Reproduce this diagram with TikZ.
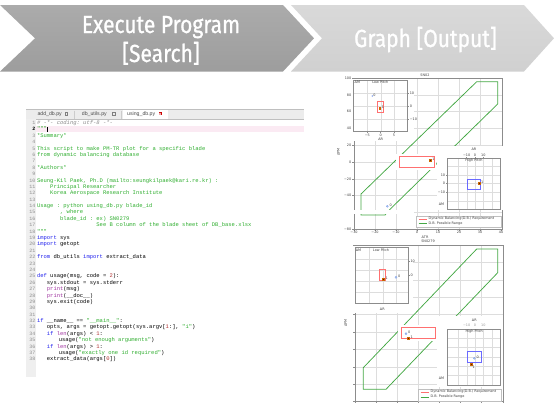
\documentclass[tikz,border=0pt]{standalone}
\usepackage{fontspec}
\setmainfont{DejaVu Sans}
\setmonofont{Liberation Mono}
\newfontfamily\headfont[FakeStretch=0.85, FakeBold=0.9]{Fira Sans}
\newfontfamily\uifont{Liberation Sans}
\newfontfamily\plotfont{DejaVu Sans}

\definecolor{hdtopA}{HTML}{ABABAB}
\definecolor{hdbotA}{HTML}{9D9D9D}
\definecolor{hdtopB}{HTML}{D9D9D9}
\definecolor{hdbotB}{HTML}{D0D0D0}
\definecolor{pystr}{HTML}{2FAE2F}
\definecolor{pykw}{HTML}{2222EE}
\definecolor{pybi}{HTML}{A033A0}
\definecolor{pynum}{HTML}{B03030}
\definecolor{pycom}{HTML}{8A8A8A}
\definecolor{gutterbg}{HTML}{EFEFEF}
\definecolor{tabbg}{HTML}{ECECEC}
\definecolor{curline}{HTML}{FBEAF3}
\definecolor{gridc}{HTML}{DDDDDD}
\definecolor{framec}{HTML}{8C8C8C}
\definecolor{rangec}{HTML}{44A844}
\definecolor{reqc}{HTML}{FF7070}
\definecolor{hpc}{HTML}{6A6AFF}
\definecolor{ptzero}{HTML}{A9CDE8}
\definecolor{ptone}{HTML}{5A1A00}

% syntax colouring helpers
\newcommand\pyK[1]{{\color{pykw}#1}}
\newcommand\pyB[1]{{\color{pybi}#1}}
\newcommand\pyN[1]{{\color{pynum}#1}}
\newcommand\pyS[1]{{\color{pystr}#1}}

% one numbered source line: number, indent (pt), text
\newcommand\codeline[3]{%
  \node[lineno] (n#1) at (35.6,{124.5+6.39*(#1-1)}) {#1};
  \node[codetxt] (c#1) at ({36.8+#2},{124.5+6.39*(#1-1)}) {#3};}
\newcommand\blankline[1]{%
  \node[lineno] (n#1) at (35.6,{124.5+6.39*(#1-1)}) {#1};}

\tikzset{
  headtext/.style={font=\headfont\fontsize{24.7}{29}\selectfont, text=white, anchor=base, inner sep=0},
  lineno/.style={anchor=base east, inner sep=0, font=\ttfamily\fontsize{5}{5}\selectfont, text=black!45},
  codetxt/.style={anchor=base west, inner sep=0, font=\ttfamily\fontsize{5.5}{5.5}\selectfont},
  tabtxt/.style={anchor=base west, inner sep=0, font=\uifont\fontsize{5.2}{5.2}\selectfont, text=black!70},
  gridline/.style={draw=gridc, line width=0.35pt},
  axframe/.style={draw=framec, line width=0.45pt},
  dbrange/.style={draw=rangec, line width=0.75pt},
  reqbox/.style={draw=reqc, line width=0.8pt},
  hpbox/.style={draw=hpc, line width=0.8pt},
  ticklbl/.style={font=\plotfont\fontsize{3.4}{3.6}\selectfont, inner sep=0, text=black!75},
  zeropt/.style={circle, fill=ptzero, draw=ptzero!70!blue, line width=0.2pt, minimum size=2.2pt, inner sep=0},
  onept/.style={rectangle, fill=ptone, draw=orange!80!black, line width=0.3pt, minimum size=1.9pt, inner sep=0},
}

\begin{document}
\begin{tikzpicture}[x=1pt,y=-1pt]
\useasboundingbox (0,0) rectangle (554,410);

% ---------------- header chevrons ----------------
\shade[top color=hdtopA, bottom color=hdbotA]
  (0,5) -- (283,5) -- (314,38.3) -- (283,71.5) -- (0,71.5) -- (35,38.3) -- cycle;
\shade[top color=hdtopB, bottom color=hdbotB]
  (291,5) -- (524,5) -- (554,38.3) -- (524,71.5) -- (291,71.5) -- (322,38.3) -- cycle;
\node[headtext] (hdrunA) at (161,33) {Execute Program};
\node[headtext] (hdrunB) at (161,62) {[Search]};
\node[headtext] (hdgraph) at (425.5,47) {Graph [Output]};

% ---------------- source editor ----------------
\fill[white] (26,109) rectangle (304,377);
\fill[tabbg] (26,109.3) rectangle (304,119);
\draw[black!25, line width=0.4pt] (26,109.3) -- (304,109.3);
\draw[black!25, line width=0.4pt] (26,119) -- (304,119);
\fill[white] (123,109.6) rectangle (168,119.2);
\draw[black!20, line width=0.3pt] (74,110.5) -- (74,118.5) (121,110.5) -- (121,118.5);
\node[tabtxt] (tab1) at (37.3,115.8) {add\_db.py};
\draw[black!50, line width=0.3pt] (65,112.5) rectangle (67.6,115.1);
\node[tabtxt] (tab2) at (81.7,115.8) {db\_utils.py};
\draw[black!50, line width=0.3pt] (112.5,112.5) rectangle (115.1,115.1);
\node[tabtxt] (tab3) at (127,115.8) {using\_db.py};
\fill[red!80!black] (158.5,112.3) rectangle (161.6,115.4);
\draw[white, line width=0.3pt] (159.2,113) -- (160.9,114.7) (159.2,114.7) -- (160.9,113);

\fill[gutterbg] (26,119.4) rectangle (36.3,377);
\fill[curline] (36.3,125.6) rectangle (304,131.8);

\codeline{1}{0}{{\color{pycom}\itshape \# -*- coding: utf-8 -*-}}
\node[lineno, text=black, font=\ttfamily\bfseries\fontsize{5}{5}\selectfont] (n2) at (35.6,130.89) {2};
\node[codetxt] (c2) at (36.8,130.89) {\pyS{"""}\rule[-0.9pt]{0.45pt}{5pt}};
\codeline{3}{0}{\pyS{*Summary*}}
\blankline{4}
\codeline{5}{0}{\pyS{This script to make PM-TR plot for a specific blade}}
\codeline{6}{0}{\pyS{from dynamic balancing database}}
\blankline{7}
\codeline{8}{0}{\pyS{*Authors*}}
\blankline{9}
\codeline{10}{0}{\pyS{Seung-Kil Paek, Ph.D (mailto:seungkilpaek@kari.re.kr) :}}
\codeline{11}{13.2}{\pyS{Principal Researcher}}
\codeline{12}{13.2}{\pyS{Korea Aerospace Research Institute}}
\blankline{13}
\codeline{14}{0}{\pyS{Usage : python using\_db.py blade\_id}}
\codeline{15}{23.1}{\pyS{, where}}
\codeline{16}{23.1}{\pyS{blade\_id : ex) SN0279}}
\codeline{17}{59.4}{\pyS{See B column of the blade sheet of DB\_base.xlsx}}
\codeline{18}{0}{\pyS{"""}}
\codeline{19}{0}{\pyK{import} sys}
\codeline{20}{0}{\pyK{import} getopt}
\blankline{21}
\codeline{22}{0}{\pyK{from} db\_utils \pyK{import} extract\_data}
\blankline{23}
\blankline{24}
\codeline{25}{0}{\pyK{def} usage(msg, code = \pyN{2}):}
\codeline{26}{9.9}{sys.stdout = sys.stderr}
\codeline{27}{9.9}{\pyB{print}(msg)}
\codeline{28}{9.9}{\pyB{print}(\_\_doc\_\_)}
\codeline{29}{9.9}{sys.exit(code)}
\blankline{30}
\blankline{31}
\codeline{32}{0}{\pyK{if} \_\_name\_\_ == \pyS{"\_\_main\_\_"}:}
\codeline{33}{9.9}{opts, args = getopt.getopt(sys.argv[\pyN{1}:], \pyS{"i"})}
\codeline{34}{9.9}{\pyK{if} \pyB{len}(args) < \pyN{1}:}
\codeline{35}{21.8}{usage(\pyS{"not enough arguments"})}
\codeline{36}{9.9}{\pyK{if} \pyB{len}(args) > \pyN{1}:}
\codeline{37}{21.8}{usage(\pyS{"exactly one id required"})}
\codeline{38}{9.9}{extract\_data(args[\pyN{0}])}

% ---------------- upper chart ----------------
\foreach \gx in {375,396,417,438,459,480} \draw[gridline] (\gx,78) -- (\gx,229);
\foreach \gy in {94.8,111.6,128.4,145.2,162,178.8,195.6,212.4} \draw[gridline] (354,\gy) -- (502,\gy);
\draw[axframe] (354,78) rectangle (502,229);
\foreach \yy/\v [count=\i] in {78/100,94.8/80,111.6/60,128.4/40,145.2/20,162/0,178.8/−20,195.6/−40,229/−80}{
  \draw[axframe] (354,\yy) -- (352.3,\yy);
  \node[ticklbl, anchor=east] (uy\i) at (351.5,\yy) {\v};}
\foreach \xx/\v [count=\i] in {354/−30,375/−20,396/−10,417/0,438/10,459/20,480/30,501/40}{
  \draw[axframe] (\xx,229) -- (\xx,230.7);
  \node[ticklbl, anchor=north] (ux\i) at (\xx,231.2) {\v};}
\node[ticklbl] (utitle) at (425,75.6) {SN02};
\node[ticklbl] (uxlab) at (425,236.8) {ΔTR};
\node[ticklbl, rotate=90] (uylab) at (338.5,152) {ΔPM};

\draw[dbrange] (361,194) -- (476.7,81.7) -- (497.7,81.7) -- (497.7,104) -- (390,209.3) -- (385,215) -- (361,215) -- cycle;
\fill[white] (335,209.6) rectangle (414,213.9);

\fill[white] (395.5,153.5) rectangle (436,169.5);
\draw[reqbox] (399,156) rectangle (434,167.3);
\node[onept] (u1) at (430,160) {};
\node[ticklbl, anchor=west] (u1l) at (432.2,159) {1};
\node[zeropt] (u0) at (387.3,206.3) {};
\node[ticklbl, anchor=west] (u0l) at (389.4,205) {0};

% low pitch inset
\fill[white] (352,78.8) rectangle (414,141);
\foreach \gx in {367.3,380.7,394} \draw[gridline] (\gx,80) -- (\gx,131.7);
\foreach \gy in {93.5,106.5,119.5} \draw[gridline] (353,\gy) -- (407.5,\gy);
\draw[axframe] (353,80) rectangle (407.5,131.7);
\node[ticklbl] (ulpm) at (357.3,82.6) {ΔM};
\node[ticklbl] (ulpt) at (380.3,82.6) {Low Pitch};
\foreach \yy/\v [count=\i] in {93.5/10,106.5/0,119.5/−10}{
  \draw[axframe] (407.5,\yy) -- (409,\yy);
  \node[ticklbl, anchor=west] (ulr\i) at (409.6,\yy) {\v};}
\foreach \xx/\v [count=\i] in {367.3/−5,380.7/0,394/5}{
  \draw[axframe] (\xx,131.7) -- (\xx,133.2);
  \node[ticklbl, anchor=north] (ulb\i) at (\xx,133.8) {\v};}
\node[ticklbl] (ulpr) at (380.7,139.6) {ΔR};
\draw[reqbox, line width=0.7pt] (377.7,101) rectangle (383.7,112);
\node[onept] (ul1) at (379.6,107.7) {};
\node[ticklbl, anchor=west] (ul1l) at (381.6,107.2) {1};
\node[zeropt, minimum size=1.2pt] (ul0) at (372.3,96) {};
\node[ticklbl, anchor=west] (ul0l) at (373.2,95.3) {0};

% high pitch inset
\fill[white] (437,145.5) rectangle (502.5,210);
\foreach \gx in {458.3,466.7,475,483.3,491.7} \draw[gridline] (\gx,158.3) -- (\gx,209.3);
\foreach \gy in {166.6,175,183.3,192.3,201} \draw[gridline] (447.3,\gy) -- (500.7,\gy);
\draw[axframe] (447.3,158.3) rectangle (500.7,209.3);
\node[ticklbl] (uhpr) at (474,149.3) {ΔR};
\foreach \xx/\v [count=\i] in {466.7/−10,475/0,483.3/10}{
  \draw[axframe] (\xx,158.3) -- (\xx,156.9);
  \node[ticklbl, anchor=south] (uht\i) at (\xx,156.4) {\v};}
\node[ticklbl] (uhpt) at (474,160.6) {High Pitch};
\foreach \yy/\v [count=\i] in {175/10,183.3/0,192.3/−10}{
  \draw[axframe] (447.3,\yy) -- (445.8,\yy);
  \node[ticklbl, anchor=east] (uhl\i) at (445.3,\yy) {\v};}
\node[ticklbl] (uhpm) at (441.5,204.3) {ΔM};
\draw[hpbox] (467.3,179) rectangle (480.7,189.3);
\node[onept] (uh1) at (479,183) {};
\node[ticklbl, anchor=west] (uh1l) at (481,181.9) {1};

% legend
\draw[black!25, fill=white, line width=0.3pt] (415.7,215.7) rectangle (501,226.7);
\coordinate (ulga) at (418.5,218.8); \coordinate (ulgb) at (426.5,218.8);
\coordinate (ulgc) at (418.5,223.6); \coordinate (ulgd) at (426.5,223.6);
\draw[reqc, line width=0.6pt] (ulga) -- (ulgb);
\draw[rangec, line width=0.6pt] (ulgc) -- (ulgd);
\node[ticklbl, anchor=west] (ulgt1) at (428.5,218.8) {Dynamic Balancing(D.B.) Requirement};
\node[ticklbl, anchor=west] (ulgt2) at (428.5,223.6) {D.B. Possible Range};

% ---------------- lower chart ----------------
\foreach \gx in {376,397,418,439,460,481} \draw[gridline] (\gx,245) -- (\gx,401.6);
\foreach \gy in {262.4,279.8,297.2,314.6,332,349.4,366.8,384.2} \draw[gridline] (355,\gy) -- (503,\gy);
\draw[axframe] (355,245) rectangle (503,401.6);
\foreach \yy in {245,262.4,279.8,297.2,314.6,332,349.4,366.8,384.2,401.6} \draw[axframe] (355,\yy) -- (353.3,\yy);
\foreach \xx in {355,376,397,418,439,460,481,503} \draw[axframe] (\xx,401.6) -- (\xx,403.3);
\node[ticklbl] (ltitle) at (428,241.6) {SN0279};
\node[ticklbl, rotate=90] (lylab) at (345.7,323.3) {ΔPM};

\draw[dbrange] (363.3,367.7) -- (476.7,249) -- (497.7,249) -- (497.7,272.7) -- (386,389.3) -- (363.3,389.3) -- cycle;

\fill[white] (397.5,325) rectangle (437,341);
\draw[reqbox] (401,327.7) rectangle (435,338.7);
\node[zeropt] (l0) at (406,333.7) {};
\node[ticklbl, anchor=west] (l0l) at (408,332.4) {0};
\node[onept] (l1) at (408.3,337.7) {};
\node[ticklbl, anchor=west] (l1l) at (410.4,337.4) {1};

% low pitch inset
\fill[white] (353,246) rectangle (413,313);
\foreach \gx in {369.3,382.7,396} \draw[gridline] (\gx,247.7) -- (\gx,303.3);
\foreach \gy in {258.8,269.9,281,292.1} \draw[gridline] (355,\gy) -- (408.3,\gy);
\draw[axframe] (355,247.7) rectangle (408.3,303.3);
\node[ticklbl] (llpm) at (358.5,250) {ΔM};
\node[ticklbl] (llpt) at (381,250) {Low Pitch};
\foreach \yy/\v [count=\i] in {261/10,275/0}{
  \draw[axframe] (408.3,\yy) -- (409.8,\yy);
  \node[ticklbl, anchor=west] (llr\i) at (410.3,\yy) {\v};}
\node[ticklbl] (llpr) at (382.3,309) {ΔR};
\draw[reqbox, line width=0.7pt] (379.3,269.3) rectangle (385,280);
\node[onept] (ll1) at (383.3,279) {};
\node[ticklbl, anchor=west] (ll1l) at (385.4,278.3) {1};
\node[zeropt] (ll0) at (396,277.3) {};
\node[ticklbl, anchor=west] (ll0l) at (398,276) {0};

% high pitch inset
\fill[white] (437,316) rectangle (502.5,386.5);
\foreach \gx in {458.3,466.7,475,483.3,491.7} \draw[gridline] (\gx,329) -- (\gx,385);
\foreach \gy in {338.3,347.3,356.7,366,375.3} \draw[gridline] (447.3,\gy) -- (500.7,\gy);
\draw[axframe] (447.3,329) rectangle (500.7,385);
\node[ticklbl] (lhpr) at (474.3,320.2) {ΔR};
\foreach \xx/\v [count=\i] in {466.7/−10,475/0,483.3/10}{
  \node[ticklbl, anchor=south, text=black!40] (lht\i) at (\xx,327) {\v};}
\node[ticklbl] (lhpt) at (474.3,331.2) {High Pitch};
\node[ticklbl] (lhpm) at (441.5,378.3) {ΔM};
\draw[hpbox] (467.7,351.3) rectangle (481.3,362.3);
\node[zeropt] (lh0) at (474.3,358.3) {};
\node[ticklbl, anchor=west] (lh0l) at (476.5,357) {0};
\node[onept] (lh1) at (470.7,364.5) {};
\node[ticklbl, anchor=west] (lh1l) at (472.3,367.3) {1};

% legend
\draw[black!25, fill=white, line width=0.3pt] (417.7,389) rectangle (500.7,400.7);
\coordinate (llga) at (420.5,391.9); \coordinate (llgb) at (428.5,391.9);
\coordinate (llgc) at (420.5,397); \coordinate (llgd) at (428.5,397);
\draw[reqc, line width=0.6pt] (llga) -- (llgb);
\draw[rangec, line width=0.6pt] (llgc) -- (llgd);
\node[ticklbl, anchor=west] (llgt1) at (430.5,391.9) {Dynamic Balancing(D.B.) Requirement};
\node[ticklbl, anchor=west] (llgt2) at (430.5,397) {D.B. Possible Range};
\end{tikzpicture}
\end{document}
